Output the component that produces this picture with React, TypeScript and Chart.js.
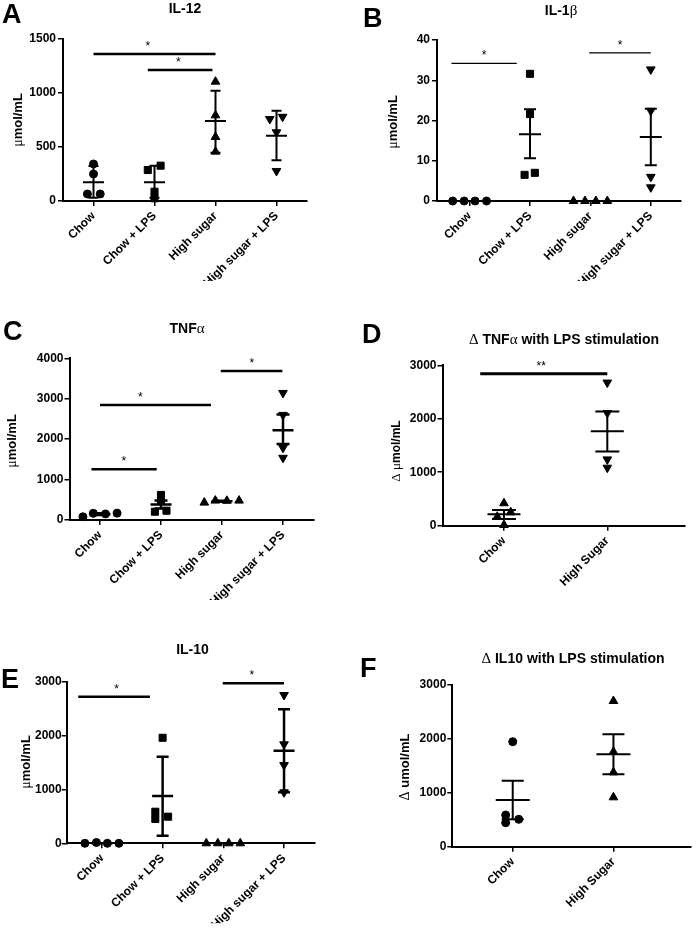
import React, { useEffect, useRef } from "react";
import { Chart, registerables } from "chart.js";

Chart.register(...registerables);

const SANS = 'Arial, "Liberation Sans", Helvetica, sans-serif';
const SERIF = '"Liberation Serif", "DejaVu Serif", "Times New Roman", serif';

// ---------------- DATA ----------------
const groups4 = ["Chow", "Chow + LPS", "High sugar", "High sugar + LPS"];
const groups2 = ["Chow", "High Sugar"];
const zeroJitter = [-0.28, -0.09, 0.09, 0.28];

// A: IL-12
const il12YTicks = [0, 500, 1000, 1500];
const il12Values = [[343, 250, 65, 65], [287, 327, 86, 25], [1105, 793, 593, 457], [759, 780, 636, 278]];
const il12Jitter = [[0, 0, -0.1, 0.11], [-0.11, 0.1, 0, 0], [0, 0, 0, 0], [-0.11, 0.1, 0, 0]];
const il12Mean = [173, 173, 741, 605];
const il12Low = [30, 30, 447, 377];
const il12High = [325, 327, 1021, 836];
const il12Sig: Sig[] = [[0, 2, 1361, 0.89, "*"], [0.89, 1.95, 1213, 1.39, "*"]];

// B: IL-1β
const il1bYTicks = [0, 10, 20, 30, 40];
const il1bValues = [[0, 0, 0, 0], [31.6, 21.6, 6.5, 7.0], [0, 0, 0, 0], [32.7, 22.4, 6.0, 3.4]];
const il1bJitter = [zeroJitter, [0, 0, -0.09, 0.08], zeroJitter, [0, 0, 0, 0]];
const il1bMean = [0, 16.6, 0, 15.9];
const il1bLow = [0, 10.6, 0, 8.9];
const il1bHigh = [0, 22.8, 0, 22.9];
const il1bSig: Sig[] = [[-0.3, 0.78, 34.2, 0.24, "*"], [1.98, 3.0, 36.8, 2.49, "*"]];

// C: TNFα
const tnfYTicks = [0, 1000, 2000, 3000, 4000];
const tnfValues = [[80, 165, 150, 170], [205, 620, 470, 230], [430, 480, 475, 480], [3143, 2600, 1785, 1538]];
const tnfJitter = [[-0.28, -0.11, 0.09, 0.28], [-0.1, 0, 0, 0.09], [-0.29, -0.11, 0.08, 0.28], [0, 0, 0, 0]];
const tnfMean = [145, 381, 466, 2222];
const tnfLow = [125, 282, 454, 1877];
const tnfHigh = [165, 480, 478, 2610];
const tnfSig: Sig[] = [[-0.14, 0.93, 1255, 0.39, "*"], [0, 1.82, 2846, 0.66, "*"], [1.98, 2.99, 3688, 2.49, "*"]];

// D: Δ TNFα with LPS stimulation
const dTnfYTicks = [0, 1000, 2000, 3000];
const dTnfValues = [[420, 168, 251, 13], [2677, 2108, 1240, 1085]];
const dTnfJitter = [[0, -0.065, 0.065, 0], [0, 0, 0, 0]];
const dTnfMean = [213, 1766];
const dTnfLow = [125, 1388];
const dTnfHigh = [294, 2138];
const dTnfSig: Sig[] = [[-0.23, 1.0, 2844, 0.36, "**"]];

// E: IL-10
const il10YTicks = [0, 1000, 2000, 3000];
const il10Values = [[0, 15, 0, 0], [1959, 586, 451, 494], [0, 0, 0, 0], [2753, 1838, 1453, 947]];
const il10Jitter = [zeroJitter, [0, -0.12, -0.12, 0.09], zeroJitter, [0, 0, 0, 0]];
const il10Mean = [0, 878, 0, 1719];
const il10Low = [0, 142, 0, 947];
const il10High = [0, 1607, 0, 2487];
const il10Sig: Sig[] = [[-0.39, 0.79, 2720, 0.24, "*"], [1.99, 3.0, 2969, 2.47, "*"]];

// F: Δ IL10 with LPS stimulation
const dIl10YTicks = [0, 1000, 2000, 3000];
const dIl10Values = [[1948, 588, 445, 508], [2703, 1762, 1380, 916]];
const dIl10Jitter = [[0, -0.07, -0.07, 0.06], [0, 0, 0, 0]];
const dIl10Mean = [866, 1714];
const dIl10Low = [508, 1343];
const dIl10High = [1225, 2085];
const dIl10Sig: Sig[] = [];

// ---------------- TYPES / HELPERS ----------------
type Sig = [number, number, number, number, string];
type Marker = "circle" | "square" | "up" | "down";

interface PanelDef {
  letter: string;
  title: string;
  yTitle: string;
  cats: string[];
  yTicks: number[];
  values: number[][];
  jitter: number[][];
  mean: number[];
  low: number[];
  high: number[];
  sig: Sig[];
  markers: Marker[];
  xRange: [number, number];
  canvas: [number, number, number, number];
  area: [number, number, number, number];
  letterAt: [number, number];
  titleAt: [number, number];
  yTitleAt: [number, number];
  yTitleSize: number;
  yTickPad: number;
  sigWidth: number;
  errWidth: number;
  meanHalf: number;
  capHalf: number;
}

const Y_W = 40;
const X_H = 80;

function markerProps(m: Marker) {
  switch (m) {
    case "circle":
      return { pointStyle: "circle", pointRadius: 4, pointRotation: 0 };
    case "square":
      return { pointStyle: "rect", pointRadius: 5, pointRotation: 0 };
    case "up":
      return { pointStyle: "triangle", pointRadius: 5, pointRotation: 0 };
    default:
      return { pointStyle: "triangle", pointRadius: 5, pointRotation: 180 };
  }
}

function runs(text: string) {
  const out: { t: string; greek: boolean }[] = [];
  for (const ch of text) {
    const g = /[\u0370-\u03FF]/.test(ch);
    const last = out[out.length - 1];
    if (last && last.greek === g) last.t += ch;
    else out.push({ t: ch, greek: g });
  }
  return out;
}

function drawRich(ctx: CanvasRenderingContext2D, text: string, x: number, y: number, size: number) {
  const rs = runs(text);
  const fontOf = (g: boolean) => (g ? `${size + 1}px ${SERIF}` : `bold ${size}px ${SANS}`);
  let total = 0;
  const ws = rs.map((r) => {
    ctx.font = fontOf(r.greek);
    const w = ctx.measureText(r.t).width;
    total += w;
    return w;
  });
  let cx = x - total / 2;
  ctx.textAlign = "left";
  rs.forEach((r, i) => {
    ctx.font = fontOf(r.greek);
    ctx.fillText(r.t, cx, y);
    cx += ws[i];
  });
}

function makeOverlay(p: PanelDef) {
  return {
    id: "overlay",
    afterDraw(chart: any) {
      const ctx: CanvasRenderingContext2D = chart.ctx;
      const xs = chart.scales.x;
      const ys = chart.scales.y;
      const ox = p.canvas[0];
      const oy = p.canvas[1];
      ctx.save();
      ctx.strokeStyle = "#000";
      ctx.fillStyle = "#000";
      ctx.lineCap = "butt";
      // mean ± error
      ctx.lineWidth = p.errWidth;
      p.mean.forEach((m, i) => {
        const x = xs.getPixelForValue(i);
        const yl = ys.getPixelForValue(p.low[i]);
        const yh = ys.getPixelForValue(p.high[i]);
        const ym = ys.getPixelForValue(m);
        ctx.beginPath();
        ctx.moveTo(x, yl);
        ctx.lineTo(x, yh);
        ctx.moveTo(x - p.capHalf, yh);
        ctx.lineTo(x + p.capHalf, yh);
        ctx.moveTo(x - p.capHalf, yl);
        ctx.lineTo(x + p.capHalf, yl);
        ctx.moveTo(x - p.meanHalf, ym);
        ctx.lineTo(x + p.meanHalf, ym);
        ctx.stroke();
      });
      // significance bars
      ctx.lineWidth = p.sigWidth;
      p.sig.forEach(([a, b, v, s, label]) => {
        const y = ys.getPixelForValue(v);
        ctx.beginPath();
        ctx.moveTo(xs.getPixelForValue(a), y);
        ctx.lineTo(xs.getPixelForValue(b), y);
        ctx.stroke();
        ctx.font = `12px ${SANS}`;
        ctx.textAlign = "center";
        ctx.textBaseline = "alphabetic";
        ctx.fillText(label, xs.getPixelForValue(s), y - 4);
      });
      // panel letter
      ctx.textBaseline = "alphabetic";
      ctx.textAlign = "left";
      ctx.font = `bold 27px ${SANS}`;
      ctx.fillText(p.letter, p.letterAt[0] - ox, p.letterAt[1] - oy);
      // title
      drawRich(ctx, p.title, p.titleAt[0] - ox, p.titleAt[1] - oy, 14);
      // y title
      ctx.save();
      ctx.translate(p.yTitleAt[0] - ox, p.yTitleAt[1] - oy);
      ctx.rotate(-Math.PI / 2);
      ctx.textBaseline = "middle";
      drawRich(ctx, p.yTitle, 0, 0, p.yTitleSize);
      ctx.restore();
      ctx.restore();
    },
  };
}

function buildConfig(p: PanelDef): any {
  const [cl, ct, cw, ch] = p.canvas;
  const [al, at, ar, ab] = p.area;
  const tickFont = { family: SANS, size: 12, weight: "bold" as const };
  const grid = { display: true, drawOnChartArea: false, drawTicks: true, tickLength: 5, color: "#000", lineWidth: 1.5 };
  const border = { display: true, color: "#000", width: 2 };
  return {
    type: "scatter",
    data: {
      datasets: p.values.map((vals, i) => ({
        data: vals.map((v, j) => ({ x: i + p.jitter[i][j], y: v })),
        backgroundColor: "#000",
        borderColor: "#000",
        pointBackgroundColor: "#000",
        pointBorderColor: "#000",
        pointBorderWidth: 1,
        clip: false,
        ...markerProps(p.markers[i]),
      })),
    },
    options: {
      animation: false,
      responsive: false,
      maintainAspectRatio: false,
      devicePixelRatio: 1,
      events: [],
      layout: {
        padding: {
          left: al - cl - Y_W,
          top: at - ct,
          right: cl + cw - ar,
          bottom: ct + ch - ab - X_H,
        },
      },
      plugins: { legend: { display: false }, tooltip: { enabled: false }, title: { display: false } },
      scales: {
        x: {
          type: "linear",
          min: p.xRange[0],
          max: p.xRange[1],
          afterBuildTicks: (s: any) => {
            s.ticks = p.cats.map((_, i) => ({ value: i }));
          },
          afterFit: (s: any) => {
            s.height = X_H;
          },
          ticks: {
            autoSkip: false,
            minRotation: 45,
            maxRotation: 45,
            padding: 3,
            color: "#000",
            font: tickFont,
            callback: (v: any) => p.cats[Math.round(v)] ?? "",
          },
          grid,
          border,
        },
        y: {
          min: p.yTicks[0],
          max: p.yTicks[p.yTicks.length - 1],
          afterBuildTicks: (s: any) => {
            s.ticks = p.yTicks.map((v) => ({ value: v }));
          },
          afterFit: (s: any) => {
            s.width = Y_W;
          },
          ticks: { padding: p.yTickPad, color: "#000", font: tickFont, callback: (v: any) => String(v) },
          grid,
          border,
        },
      },
    },
    plugins: [makeOverlay(p)],
  };
}

// ---------------- PANELS ----------------
const panels: PanelDef[] = [
  {
    letter: "A", title: "IL-12", yTitle: "μmol/mL", cats: groups4, yTicks: il12YTicks,
    values: il12Values, jitter: il12Jitter, mean: il12Mean, low: il12Low, high: il12High, sig: il12Sig,
    markers: ["circle", "square", "up", "down"], xRange: [-0.5, 3.5],
    canvas: [0, 0, 348, 300], area: [63, 39, 307, 201],
    letterAt: [2, 23], titleAt: [185, 13], yTitleAt: [18, 120], yTitleSize: 13, yTickPad: 2,
    sigWidth: 2.5, errWidth: 2, meanHalf: 10.5, capHalf: 5,
  },
  {
    letter: "B", title: "IL-1β", yTitle: "μmol/mL", cats: groups4, yTicks: il1bYTicks,
    values: il1bValues, jitter: il1bJitter, mean: il1bMean, low: il1bLow, high: il1bHigh, sig: il1bSig,
    markers: ["circle", "square", "up", "down"], xRange: [-0.54, 3.5],
    canvas: [348, 0, 349, 300], area: [437, 40, 681, 201],
    letterAt: [363, 27], titleAt: [561, 15], yTitleAt: [393, 122], yTitleSize: 13, yTickPad: 2,
    sigWidth: 1.2, errWidth: 2, meanHalf: 11, capHalf: 6,
  },
  {
    letter: "C", title: "TNFα", yTitle: "μmol/mL", cats: groups4, yTicks: tnfYTicks,
    values: tnfValues, jitter: tnfJitter, mean: tnfMean, low: tnfLow, high: tnfHigh, sig: tnfSig,
    markers: ["circle", "square", "up", "down"], xRange: [-0.5, 3.5],
    canvas: [0, 290, 348, 330], area: [69.5, 358.3, 313.5, 520],
    letterAt: [3, 340], titleAt: [187, 333], yTitleAt: [12, 441], yTitleSize: 13, yTickPad: 1,
    sigWidth: 2.5, errWidth: 2.5, meanHalf: 10.5, capHalf: 6.5,
  },
  {
    letter: "D", title: "Δ TNFα with LPS stimulation", yTitle: "Δ μmol/mL", cats: groups2, yTicks: dTnfYTicks,
    values: dTnfValues, jitter: dTnfJitter, mean: dTnfMean, low: dTnfLow, high: dTnfHigh, sig: dTnfSig,
    markers: ["up", "down"], xRange: [-0.595, 1.752],
    canvas: [348, 290, 349, 330], area: [442.5, 365.3, 685, 525.7],
    letterAt: [362, 343], titleAt: [564, 344], yTitleAt: [397, 451], yTitleSize: 12, yTickPad: 1,
    sigWidth: 3, errWidth: 2, meanHalf: 16.5, capHalf: 12,
  },
  {
    letter: "E", title: "IL-10", yTitle: "μmol/mL", cats: groups4, yTicks: il10YTicks,
    values: il10Values, jitter: il10Jitter, mean: il10Mean, low: il10Low, high: il10High, sig: il10Sig,
    markers: ["circle", "square", "up", "down"], xRange: [-0.58, 3.51],
    canvas: [0, 620, 348, 312], area: [66.7, 681.7, 315, 843.3],
    letterAt: [1, 688], titleAt: [192.5, 654], yTitleAt: [26, 762], yTitleSize: 13, yTickPad: 0,
    sigWidth: 2.5, errWidth: 2.5, meanHalf: 10.5, capHalf: 6,
  },
  {
    letter: "F", title: "Δ IL10 with LPS stimulation", yTitle: "Δ umol/mL", cats: groups2, yTicks: dIl10YTicks,
    values: dIl10Values, jitter: dIl10Jitter, mean: dIl10Mean, low: dIl10Low, high: dIl10High, sig: dIl10Sig,
    markers: ["circle", "up"], xRange: [-0.6, 1.77],
    canvas: [348, 620, 349, 312], area: [452.3, 685, 696.7, 846.7],
    letterAt: [360, 677], titleAt: [573, 663], yTitleAt: [405, 767], yTitleSize: 13, yTickPad: 1,
    sigWidth: 0, errWidth: 2, meanHalf: 17, capHalf: 11,
  },
];

function Panel({ def }: { def: PanelDef }) {
  const ref = useRef<HTMLCanvasElement>(null);
  useEffect(() => {
    const chart = new Chart(ref.current as HTMLCanvasElement, buildConfig(def));
    return () => chart.destroy();
  }, [def]);
  const [l, t, w, h] = def.canvas;
  return (
    <canvas
      ref={ref}
      width={w}
      height={h}
      style={{ position: "absolute", left: l, top: t, width: w, height: h }}
    />
  );
}

export default function App() {
  return (
    <div style={{ position: "absolute", left: 0, top: 0, width: 697, height: 932, background: "#fff", overflow: "hidden" }}>
      {panels.map((p) => (
        <Panel key={p.letter} def={p} />
      ))}
    </div>
  );
}
